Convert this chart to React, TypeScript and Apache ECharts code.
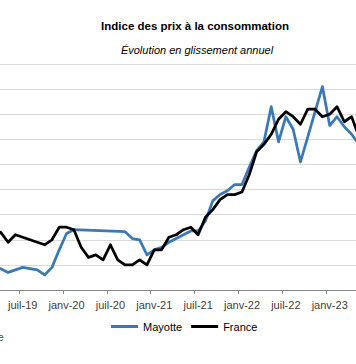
import React, { useEffect, useRef } from "react";
import * as echarts from "echarts";

// Month names (French abbreviations) used to build category labels
const MONTHS = ["janv", "févr", "mars", "avr", "mai", "juin", "juil", "août", "sept", "oct", "nov", "déc"];
const START_YEAR = 2019;
const START_MONTH = 2; // March 2019 (0-based)

// Year-on-year CPI change (%), March 2019 -> May 2023
const MAYOTTE: (number | null)[] = [
  -0.1, -0.15, -0.3, -0.2, -0.1, -0.15, -0.2, -0.4, -0.1, 0.6,
  1.25, 1.4, null, null, null, null, null, null, 1.32, 1.05, 1.0, 0.4,
  0.6, 0.7, 0.9, 1.05, 1.2, 1.35, 1.35, 1.75, 2.55, 2.8, 2.95, 3.2,
  3.2, 3.9, 4.55, 4.9, 6.3, 4.9, 5.9, 5.4, 4.1, 5.1, 6.1, 7.1,
  5.55, 5.9, 5.5, 5.2, 4.8,
];
const FRANCE: number[] = [
  1.1, 1.3, 0.9, 1.2, 1.1, 1.0, 0.9, 0.8, 1.0, 1.5,
  1.5, 1.4, 0.7, 0.3, 0.4, 0.2, 0.8, 0.2, 0.0, 0.0, 0.2, 0.0,
  0.6, 0.6, 1.1, 1.2, 1.4, 1.5, 1.2, 1.9, 2.2, 2.6, 2.8, 2.8,
  2.9, 3.6, 4.5, 4.8, 5.2, 5.8, 6.1, 5.9, 5.6, 6.2, 6.2, 5.9,
  6.0, 6.3, 5.7, 5.9, 5.1,
];

const CATEGORIES: string[] = FRANCE.map((_, i) => {
  const m = (START_MONTH + i) % 12;
  const y = START_YEAR + Math.floor((START_MONTH + i) / 12);
  return `${MONTHS[m]}-${String(y).slice(2)}`;
});

const Y_MIN = -1;
const Y_MAX = 8;
const Y_INTERVAL = 1;

const TITLE = "Indice des prix à la consommation";
const SUBTITLE = "Évolution en glissement annuel";
const SOURCE = "Source : Insee";

const OFFSET = 60; // chart is cropped on the left like the reference
const FONT = '"Liberation Sans", Arial, sans-serif';

export default function App() {
  const ref = useRef<HTMLDivElement>(null);

  useEffect(() => {
    if (!ref.current) return;
    const chart = echarts.init(ref.current, null, { renderer: "svg" });
    const showLabel = (_i: number, v: string) => v.startsWith("janv") || v.startsWith("juil");
    chart.setOption({
      animation: false,
      backgroundColor: "#ffffff",
      graphic: [
        {
          type: "text",
          x: 195 + OFFSET,
          y: 26,
          style: {
            text: TITLE,
            fill: "#000000",
            font: `bold 11.5px ${FONT}`,
            textAlign: "center",
            textVerticalAlign: "middle",
            align: "center",
            verticalAlign: "middle",
          },
        },
        {
          type: "text",
          x: 197 + OFFSET,
          y: 50,
          style: {
            text: SUBTITLE,
            fill: "#000000",
            font: `italic 11px ${FONT}`,
            textAlign: "center",
            textVerticalAlign: "middle",
            align: "center",
            verticalAlign: "middle",
          },
        },
        {
          type: "text",
          x: 3.5 + OFFSET,
          y: 337,
          style: {
            text: SOURCE,
            fill: "#404040",
            font: `10px ${FONT}`,
            textAlign: "right",
            textVerticalAlign: "middle",
            align: "right",
            verticalAlign: "middle",
          },
        },
      ],
      grid: { left: 49.8, top: 64, width: 372.8, height: 226, containLabel: false },
      legend: {
        left: 106 + OFFSET,
        top: 316,
        itemWidth: 27,
        itemHeight: 3,
        itemGap: 9,
        icon: "rect",
        textStyle: { fontFamily: FONT, fontSize: 11, color: "#000000" },
        data: ["Mayotte", "France"],
      },
      xAxis: {
        type: "category",
        data: CATEGORIES,
        boundaryGap: true,
        axisLine: { onZero: false, lineStyle: { color: "#868686", width: 1 } },
        axisTick: { show: true, interval: showLabel, length: 4, inside: false, lineStyle: { color: "#868686" } },
        axisLabel: { interval: showLabel, margin: 9, color: "#404040", fontFamily: FONT, fontSize: 11 },
        splitLine: { show: false },
      },
      yAxis: {
        type: "value",
        min: Y_MIN,
        max: Y_MAX,
        interval: Y_INTERVAL,
        axisLine: { show: false },
        axisTick: { show: false },
        axisLabel: { show: false },
        splitLine: { show: true, lineStyle: { color: "#d9d9d9", width: 1 } },
      },
      series: [
        {
          name: "Mayotte",
          type: "line",
          data: MAYOTTE,
          connectNulls: true,
          symbol: "none",
          color: "#3b78b6",
          lineStyle: { color: "#3b78b6", width: 2.75, cap: "round", join: "round" },
          emphasis: { disabled: true },
        },
        {
          name: "France",
          type: "line",
          data: FRANCE,
          symbol: "none",
          color: "#000000",
          lineStyle: { color: "#000000", width: 2.75, cap: "round", join: "round" },
          emphasis: { disabled: true },
        },
      ],
    });
    return () => chart.dispose();
  }, []);

  return (
    <div
      style={{
        position: "fixed",
        left: 0,
        top: 0,
        width: 356,
        height: 364,
        overflow: "hidden",
        background: "#ffffff",
      }}
    >
      <div ref={ref} style={{ position: "absolute", left: -OFFSET, top: 0, width: 440, height: 364 }} />
    </div>
  );
}
